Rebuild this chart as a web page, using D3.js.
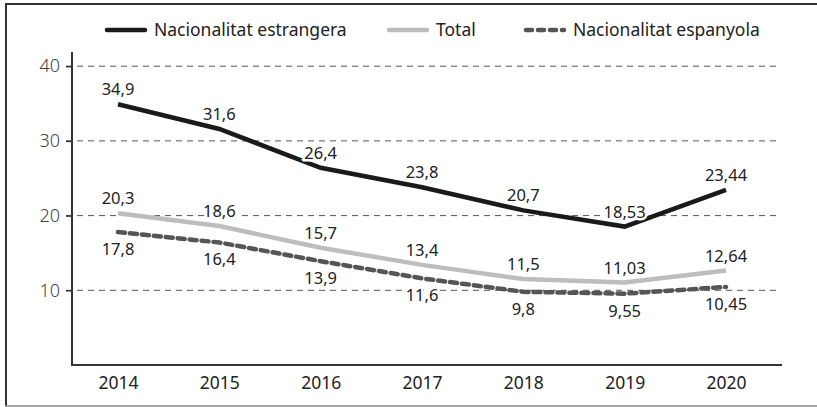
<!DOCTYPE html>
<html>
<head>
<meta charset="utf-8">
<script src="https://cdn.jsdelivr.net/npm/d3@7"></script>
<style>
  body { margin: 0; background: #fff; }
  text { font-family: "Noto Sans", sans-serif; }
</style>
</head>
<body>
<div class="chart"></div>
<script>
const years = ['2014', '2015', '2016', '2017', '2018', '2019', '2020'];
const estrangera = [34.9, 31.6, 26.4, 23.8, 20.7, 18.53, 23.44];
const total = [20.3, 18.6, 15.7, 13.4, 11.5, 11.03, 12.64];
const espanyola = [17.8, 16.4, 13.9, 11.6, 9.8, 9.55, 10.45];
const yTicks = [10, 20, 30, 40];

const W = 817, H = 407;
const fmt = v => String(v).replace('.', ',');

const svg = d3.select('.chart').append('svg')
  .attr('width', W)
  .attr('height', H);

// frame
svg.append('line').attr('x1', 5).attr('x2', W).attr('y1', 4).attr('y2', 4)
  .attr('stroke', '#333').attr('stroke-width', 2);
svg.append('line').attr('x1', 6).attr('x2', 6).attr('y1', 3).attr('y2', 406)
  .attr('stroke', '#333').attr('stroke-width', 2);
svg.append('line').attr('x1', 5).attr('x2', W).attr('y1', 406).attr('y2', 406)
  .attr('stroke', '#888').attr('stroke-width', 1.5);

const x = d3.scalePoint().domain(years).range([118, 726]);
const y = d3.scaleLinear().domain([0, 41.9]).range([365, 52]);

// gridlines
svg.append('g')
  .selectAll('line')
  .data(yTicks)
  .enter().append('line')
    .attr('x1', 66).attr('x2', 776)
    .attr('y1', d => y(d)).attr('y2', d => y(d))
    .attr('stroke', '#555')
    .attr('stroke-width', 1)
    .attr('stroke-dasharray', '6,5');

// y axis
const yAxis = svg.append('g')
  .attr('transform', 'translate(72,0)')
  .call(d3.axisLeft(y).tickValues(yTicks).tickSize(6).tickPadding(6).tickFormat(d => d));
yAxis.select('.domain').remove();
yAxis.selectAll('.tick line').attr('stroke', '#333').attr('stroke-width', 1.5);
yAxis.selectAll('.tick text').attr('font-size', 18).attr('fill', '#444').attr('font-weight', 300);
svg.append('line').attr('x1', 72).attr('x2', 72).attr('y1', 52).attr('y2', 366)
  .attr('stroke', '#333').attr('stroke-width', 2);

// x axis
svg.append('line').attr('x1', 71).attr('x2', 782).attr('y1', 365).attr('y2', 365)
  .attr('stroke', '#333').attr('stroke-width', 2);
const xAxis = svg.append('g')
  .attr('transform', 'translate(0,365)')
  .call(d3.axisBottom(x).tickSize(0).tickPadding(12));
xAxis.select('.domain').remove();
xAxis.selectAll('.tick text').attr('font-size', 17.5).attr('fill', '#222');

const line = d3.line()
  .x((d, i) => x(years[i]))
  .y(d => y(d));

const series = [
  {name: 'Nacionalitat espanyola', values: espanyola, color: '#555', dash: '7,5', pos: 'below'},
  {name: 'Total', values: total, color: '#bdbdbd', dash: null, pos: 'above'},
  {name: 'Nacionalitat estrangera', values: estrangera, color: '#1a1a1a', dash: null, pos: 'above'}
];

series.forEach(s => {
  svg.append('path')
    .datum(s.values)
    .attr('d', line)
    .attr('fill', 'none')
    .attr('stroke', s.color)
    .attr('stroke-width', 4.5)
    .attr('stroke-linecap', s.dash ? 'round' : 'butt')
    .attr('stroke-dasharray', s.dash);
});

series.forEach(s => {
  svg.append('g')
    .selectAll('text')
    .data(s.values)
    .enter().append('text')
      .attr('x', (d, i) => x(years[i]))
      .attr('y', d => s.pos == 'above' ? y(d) - 9 : y(d) + 23)
      .attr('text-anchor', 'middle')
      .attr('font-size', 16.5)
      .attr('fill', '#222')
      .attr('stroke', '#fff')
      .attr('stroke-width', 5)
      .attr('paint-order', 'stroke')
      .text(fmt);
});

// legend
const legend = [
  {name: 'Nacionalitat estrangera', color: '#1a1a1a', dash: null, x: 107},
  {name: 'Total', color: '#bdbdbd', dash: null, x: 389},
  {name: 'Nacionalitat espanyola', color: '#555', dash: '6,6', x: 526}
];
legend.forEach(l => {
  svg.append('line')
    .attr('x1', l.x).attr('x2', l.x + 38)
    .attr('y1', 30).attr('y2', 30)
    .attr('stroke', l.color)
    .attr('stroke-width', 4.5)
    .attr('stroke-linecap', 'round')
    .attr('stroke-dasharray', l.dash);
  svg.append('text')
    .attr('x', l.x + 47)
    .attr('y', 36)
    .attr('font-size', 17.5)
    .attr('fill', '#222')
    .text(l.name);
});
</script>
</body>
</html>
